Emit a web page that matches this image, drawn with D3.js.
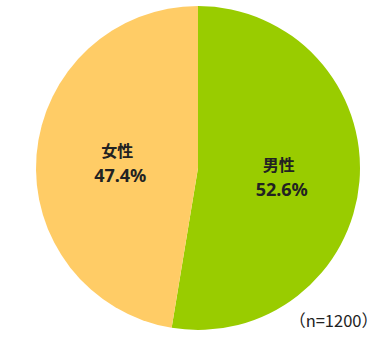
<!DOCTYPE html>
<html>
<head>
<meta charset="utf-8">
<script src="https://cdn.jsdelivr.net/npm/d3@7"></script>
<style>
  body { margin: 0; background: #fff; }
  svg { display: block; }
</style>
</head>
<body>
<div id="pie"></div>
<script>
const categories = ["男性", "女性"];
const values = [52.6, 47.4];
const colors = ["#99cc00", "#ffcc66"];
const sampleNote = "（n=1200）";

const width = 380, height = 337;
const cx = 198, cy = 168, radius = 162;

const svg = d3.select("#pie").append("svg")
  .attr("width", width)
  .attr("height", height);

const g = svg.append("g").attr("transform", "translate(" + cx + "," + cy + ")");

const pie = d3.pie().sort(null).value(d => d.value);
const data = categories.map((c, i) => ({ name: c, value: values[i] }));
const arcs = pie(data);

const arc = d3.arc().innerRadius(0).outerRadius(radius);

g.selectAll("path")
  .data(arcs)
  .enter()
  .append("path")
  .attr("d", arc)
  .attr("fill", (d, i) => colors[i]);

// labels sit around the middle of each slice
const labelArc = d3.arc().innerRadius(radius * 0.5).outerRadius(radius * 0.5);

const labels = g.selectAll("g.label")
  .data(arcs)
  .enter()
  .append("g")
  .attr("class", "label")
  .attr("transform", d => "translate(" + labelArc.centroid(d) + ")");

labels.append("text")
  .attr("text-anchor", "middle")
  .attr("y", -4)
  .style("font-family", "'Noto Sans CJK JP', sans-serif")
  .style("font-weight", "bold")
  .style("font-size", "16px")
  .attr("fill", "#222")
  .text(d => d.data.name);

labels.append("text")
  .attr("text-anchor", "middle")
  .attr("x", 3)
  .attr("y", 21)
  .style("font-family", "'Noto Sans', sans-serif")
  .style("font-weight", "bold")
  .style("font-size", "18px")
  .attr("fill", "#222")
  .text(d => d.data.value.toFixed(1) + "%");

svg.append("text")
  .attr("x", 378)
  .attr("y", 327)
  .attr("text-anchor", "end")
  .style("font-family", "'Noto Sans CJK JP', sans-serif")
  .style("font-size", "16.5px")
  .attr("fill", "#222")
  .text(sampleNote);
</script>
</body>
</html>
